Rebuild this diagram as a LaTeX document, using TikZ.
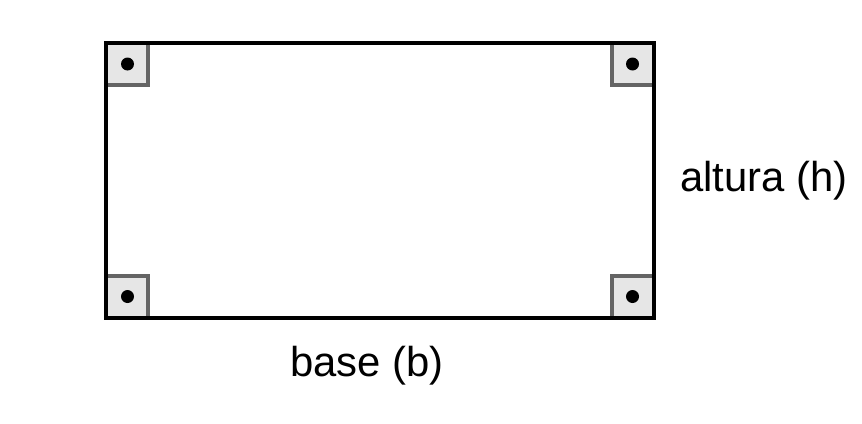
\documentclass[tikz,border=0pt]{standalone}
\usepackage{fontspec}
\setmainfont{Liberation Sans}
\definecolor{cornerfill}{RGB}{230,230,230}
\definecolor{cornerline}{RGB}{100,100,100}

\begin{document}
\begin{tikzpicture}[x=0.02cm, y=-0.02cm]
    \tikzset{
        label text/.style = {font=\fontsize{23.8}{28}\selectfont, inner sep=0pt},
        corner mark/.style = {fill=cornerfill, draw=cornerline, line width=1.9pt},
        corner dot/.style = {fill=black}
    }
    \useasboundingbox (0, 0) rectangle (862, 423);

    % right angle marks
    \draw[corner mark] (106, 43) rectangle (148, 85);
    \draw[corner mark] (654, 43) rectangle (612, 85);
    \draw[corner mark] (106, 318) rectangle (148, 276);
    \draw[corner mark] (654, 318) rectangle (612, 276);
    \fill[corner dot] (127.5, 64) circle[radius=0.13cm];
    \fill[corner dot] (632.5, 64) circle[radius=0.13cm];
    \fill[corner dot] (127.5, 296.5) circle[radius=0.13cm];
    \fill[corner dot] (632.5, 296.5) circle[radius=0.13cm];

    \node[draw, line width=2.1pt, minimum width=10.96cm, minimum height=5.5cm,
          inner sep=0pt] (rect) at (380, 180.5) {};

    \node[label text] (base) at (367, 366) {base (b)};
    \node[label text, anchor=west] (altura) at (680, 181) {altura (h)};
\end{tikzpicture}
\end{document}
